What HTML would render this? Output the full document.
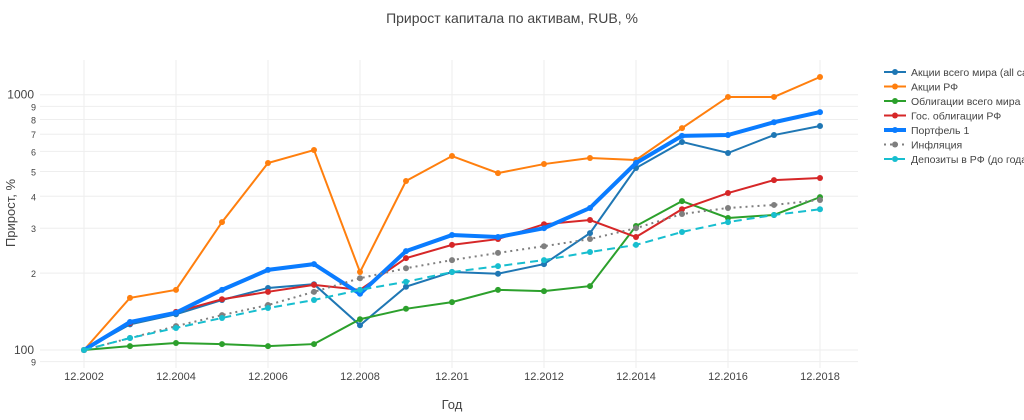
<!DOCTYPE html>
<html><head><meta charset="utf-8"><style>
body{margin:0;background:#fff;font-family:"Liberation Sans",sans-serif}
svg text{font-family:"Liberation Sans",sans-serif}
</style></head><body>
<svg id="c" width="1024" height="415"></svg>
<script>
const years=[2002,2003,2004,2005,2006,2007,2008,2009,2010,2011,2012,2013,2014,2015,2016,2017,2018];
const xTicks=["12.2002","12.2004","12.2006","12.2008","12.201","12.2012","12.2014","12.2016","12.2018"];
const worldStocks=[100,126,138,157,175,181,125,177,202,199,217,287,516,653,591,695,754];
const rfStocks=[100,160,172,317,540,607,202,459,575,493,535,565,555,740,980,980,1173];
const worldBonds=[100,103.6,106.5,105.5,103.6,105.5,132,145,154,172,170,178,306,383,329,338,397];
const govBonds=[100,127.6,141,158,169,180,172,229,258,272,311,323,277,356,412,463,472];
const portfolio=[100,128.7,140,172,206,217,166,244,282,277,300,360,540,690,695,780,855];
const inflation=[100,111.4,124,137,150,169,191,209,225,240,255,272,300,341,360,370,387];
const deposits=[100,111.4,122,133.5,146,157,172,185,202,213,225,242,258,290,317,338,356];
const series=[
 {name:"Акции всего мира (all cap)",data:worldStocks,color:"#1f77b4",w:2,dash:""},
 {name:"Акции РФ",data:rfStocks,color:"#ff7f0e",w:2,dash:""},
 {name:"Облигации всего мира",data:worldBonds,color:"#2ca02c",w:2,dash:""},
 {name:"Гос. облигации РФ",data:govBonds,color:"#d62728",w:2,dash:""},
 {name:"Портфель 1",data:portfolio,color:"#0a7cff",w:4,dash:""},
 {name:"Инфляция",data:inflation,color:"#7f7f7f",w:2,dash:"2,4"},
 {name:"Депозиты в РФ (до года)",data:deposits,color:"#17becf",w:2,dash:"8,5"}];
const NS="http://www.w3.org/2000/svg",svg=document.getElementById('c');
const x=yr=>84+(yr-2002)*46;
const y=v=>350-255.3*Math.log10(v/100);
function el(t,a,p){const e=document.createElementNS(NS,t);for(const k in a)e.setAttribute(k,a[k]);(p||svg).appendChild(e);return e;}
function tx(s,a){const e=el('text',a);e.textContent=s;return e;}
const L=40,R=858;
// grid
[90,100,200,300,400,500,600,700,800,900,1000].forEach(v=>{
 const g=el('line',{x1:L,x2:R,y1:y(v),y2:y(v),stroke:"#eee","stroke-width":1});
 
 const big=(v==100||v==1000);
 const t=tx(big?String(v):String(v>=100?v/100:9),{x:big?34:36,y:y(v)+4,"text-anchor":"end","font-size":big?12:9,fill:"#444"});
 
});
xTicks.forEach((s,i)=>{
 const xx=x(2002+2*i);
 const g=el('line',{x1:xx,x2:xx,y1:60,y2:368,stroke:"#eee","stroke-width":1});
 
 const t=tx(s,{x:xx,y:380,"text-anchor":"middle","font-size":11,fill:"#444"});
 
});
let t=tx("Прирост капитала по активам, RUB, %",{x:512,y:23,"text-anchor":"middle","font-size":14,fill:"#444"});

t=tx("Год",{x:452,y:409,"text-anchor":"middle","font-size":13,fill:"#444"});

t=tx("Прирост, %",{x:0,y:0,"text-anchor":"middle","font-size":13,fill:"#444",transform:"translate(15,213) rotate(-90)"});

series.forEach((s,si)=>{
 const g=el('g',{});
 
 const p=el('polyline',{points:s.data.map((v,i)=>x(years[i])+","+y(v)).join(" "),fill:"none",stroke:s.color,"stroke-width":s.w,"stroke-dasharray":s.dash},g);
 
 s.data.forEach((v,i)=>{const c=el('circle',{cx:x(years[i]),cy:y(v),r:3,fill:s.color},g);
  });
 const ly=72+si*14.5;
 const lg=el('g',{});
 
 el('line',{x1:884,x2:906,y1:ly,y2:ly,stroke:s.color,"stroke-width":s.w,"stroke-dasharray":s.dash},lg);
 el('circle',{cx:895,cy:ly,r:3,fill:s.color},lg);
 const lt=el('text',{x:911,y:ly+4,"font-size":10.5,fill:"#444"},lg);lt.textContent=s.name;
});
</script>
</body></html>
